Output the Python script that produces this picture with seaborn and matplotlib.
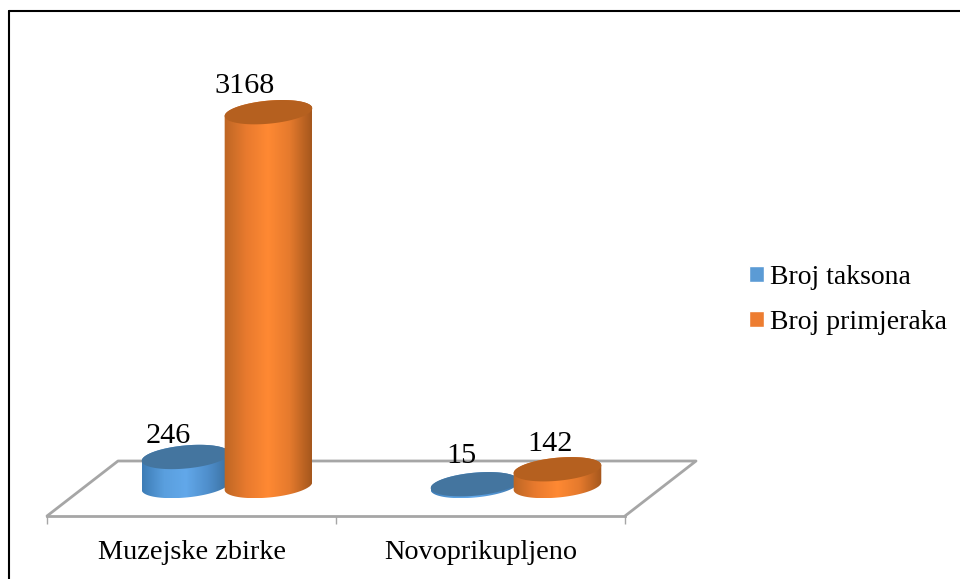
import matplotlib

matplotlib.use("Agg")

import matplotlib.pyplot as plt
import numpy as np
import pandas as pd
import seaborn as sns
from matplotlib.colors import LinearSegmentedColormap
from matplotlib.lines import Line2D
from matplotlib.patches import Polygon

categorias = ["Muzejske zbirke", "Novoprikupljeno"]
series = ["Broj taksona", "Broj primjeraka"]
broj_taksona = [246, 15]
broj_primjeraka = [3168, 142]

colores = ["#5b9bd5", "#ed7d31"]
colores_tapa = ["#44759f", "#b5601f"]
gradientes = [
    ["#3d7cb6", "#5a9fde", "#62a8ea", "#4f8fcc", "#3a6f9f"],
    ["#bd6624", "#e87a2e", "#ff8933", "#e57a2d", "#a5571d"],
]
# desplazamiento (px) de cada etiqueta de valor respecto al centro de la tapa
offset_etiquetas = [[(-17, 14), (-13, 21)], [(-24, 19), (-7, 18)]]

W, H = 960, 579
PX_POR_UNIDAD = 0.118
Y_BASE = 486
SEMI_A, SEMI_B, TILT = 44, 11.5, np.radians(5.4)
GRIS = "#a6a6a6"
DEPTH = 71 / 289

sns.set_theme(style="white")
plt.rcParams["font.family"] = ["Liberation Serif", "DejaVu Serif"]
plt.rcParams["text.color"] = "black"

fig = plt.figure(figsize=(W / 100, H / 100), dpi=100, facecolor="white")

# Suelo del grafico, con el eje de categorias en el borde frontal
ax_piso = fig.add_axes([47 / W, (H - 516) / H, 578 / W, 55 / H], zorder=1)
ax_piso.patch.set_visible(False)
for lado in ["top", "left", "right"]:
    ax_piso.spines[lado].set_visible(False)
ax_piso.spines["bottom"].set_color(GRIS)
ax_piso.spines["bottom"].set_linewidth(2)
ax_piso.set_xlim(-0.5, 1.5)
ax_piso.set_ylim(0, 1)
ax_piso.set_yticks([])
ax_piso.set_xticks([-0.5, 0.5, 1.5])
ax_piso.set_xticklabels([])
ax_piso.set_xticks([0, 1], minor=True)
ax_piso.set_xticklabels(categorias, minor=True, fontsize=20.3, color="black")
ax_piso.tick_params(axis="x", which="major", length=5.5, width=1, color=GRIS, bottom=True)
ax_piso.tick_params(axis="x", which="minor", length=0, pad=17)
ax_piso.plot(
    [-0.5, -0.5 + DEPTH, 1.5 + DEPTH, 1.5],
    [0, 1, 1, 0],
    color=GRIS,
    linewidth=2,
    clip_on=False,
)

# Barras
df = pd.DataFrame(
    {
        "categoria": categorias * 2,
        "serie": [series[0]] * 2 + [series[1]] * 2,
        "valor": broj_taksona + broj_primjeraka,
    }
)
ax = fig.add_axes([82.5 / W, 0, 578 / W, (H - 20) / H], zorder=2)
ax.patch.set_visible(False)
sns.barplot(
    data=df,
    x="categoria",
    y="valor",
    hue="serie",
    order=categorias,
    hue_order=series,
    palette=colores,
    width=0.574,
    saturation=1,
    errorbar=None,
    ax=ax,
)
ax.set_xlim(-0.5, 1.5)
ax.set_ylim(-(H - Y_BASE) / PX_POR_UNIDAD, (Y_BASE - 20) / PX_POR_UNIDAD)
ax.set_xlabel("")
ax.set_ylabel("")
ax.set_xticks([])
ax.set_yticks([])
sns.despine(ax=ax, left=True, bottom=True)

t_inf = np.linspace(np.pi, 2 * np.pi, 60)
t_sup = np.linspace(0, np.pi, 60)


def puntos_elipse(cx_px, cy_px, t):
    """Puntos de la elipse inclinada, en coordenadas de datos."""
    px = cx_px + SEMI_A * np.cos(t) * np.cos(TILT) - SEMI_B * np.sin(t) * np.sin(TILT)
    py = cy_px + SEMI_A * np.cos(t) * np.sin(TILT) + SEMI_B * np.sin(t) * np.cos(TILT)
    return ax.transData.inverted().transform(np.column_stack([px, py]))


z = 3
for i_serie, contenedor in enumerate(ax.containers):
    cmap = LinearSegmentedColormap.from_list("cil", gradientes[i_serie])
    for i_cat, barra in enumerate(contenedor):
        cx = barra.get_x() + barra.get_width() / 2
        valor = barra.get_height()
        cx_px, y0_px = ax.transData.transform((cx, 0))
        _, y1_px = ax.transData.transform((cx, valor))

        cuerpo = np.vstack(
            [puntos_elipse(cx_px, y0_px, t_inf), puntos_elipse(cx_px, y1_px, t_sup)]
        )
        silueta = Polygon(cuerpo, closed=True, transform=ax.transData, facecolor="none", edgecolor="none")
        ax.add_patch(silueta)
        barra.set_clip_path(silueta)

        ancho = SEMI_A / (ax.transData.transform((1, 0))[0] - ax.transData.transform((0, 0))[0])
        y_min, y_max = cuerpo[:, 1].min(), cuerpo[:, 1].max()
        img = ax.imshow(
            np.linspace(0, 1, 128).reshape(1, -1),
            extent=[cx - ancho, cx + ancho, y_min, y_max],
            cmap=cmap,
            aspect="auto",
            zorder=z,
        )
        img.set_clip_path(silueta)

        tapa = puntos_elipse(cx_px, y1_px, np.linspace(0, 2 * np.pi, 120))
        ax.add_patch(Polygon(tapa, closed=True, facecolor=colores_tapa[i_serie], edgecolor="none", zorder=z + 0.5))
        z += 1

        dx, dy = offset_etiquetas[i_serie][i_cat]
        ax.annotate(
            f"{int(valor)}",
            xy=(cx, valor),
            xytext=(dx, dy),
            textcoords="offset pixels",
            ha="center",
            va="baseline",
            fontsize=21.8,
            color="black",
            zorder=20,
            annotation_clip=False,
        )

ax.set_xlim(-0.5, 1.5)
ax.set_ylim(-(H - Y_BASE) / PX_POR_UNIDAD, (Y_BASE - 20) / PX_POR_UNIDAD)

# Leyenda
sns.move_legend(
    ax,
    loc="upper left",
    bbox_to_anchor=(749 / W, (H - 265) / H),
    bbox_transform=fig.transFigure,
    frameon=False,
    title=None,
    fontsize=20,
    labelcolor="black",
    handlelength=0.54,
    handleheight=0.54,
    handletextpad=0.22,
    labelspacing=0.72,
    borderpad=0,
    borderaxespad=0,
)

# Marco exterior
for xs, ys in [((9, W), (11, 11)), ((9, 9), (11, H))]:
    fig.add_artist(
        Line2D(
            [x / W for x in xs],
            [(H - y) / H for y in ys],
            color="black",
            linewidth=1.5,
        )
    )

fig.savefig("out.png", dpi=100)
